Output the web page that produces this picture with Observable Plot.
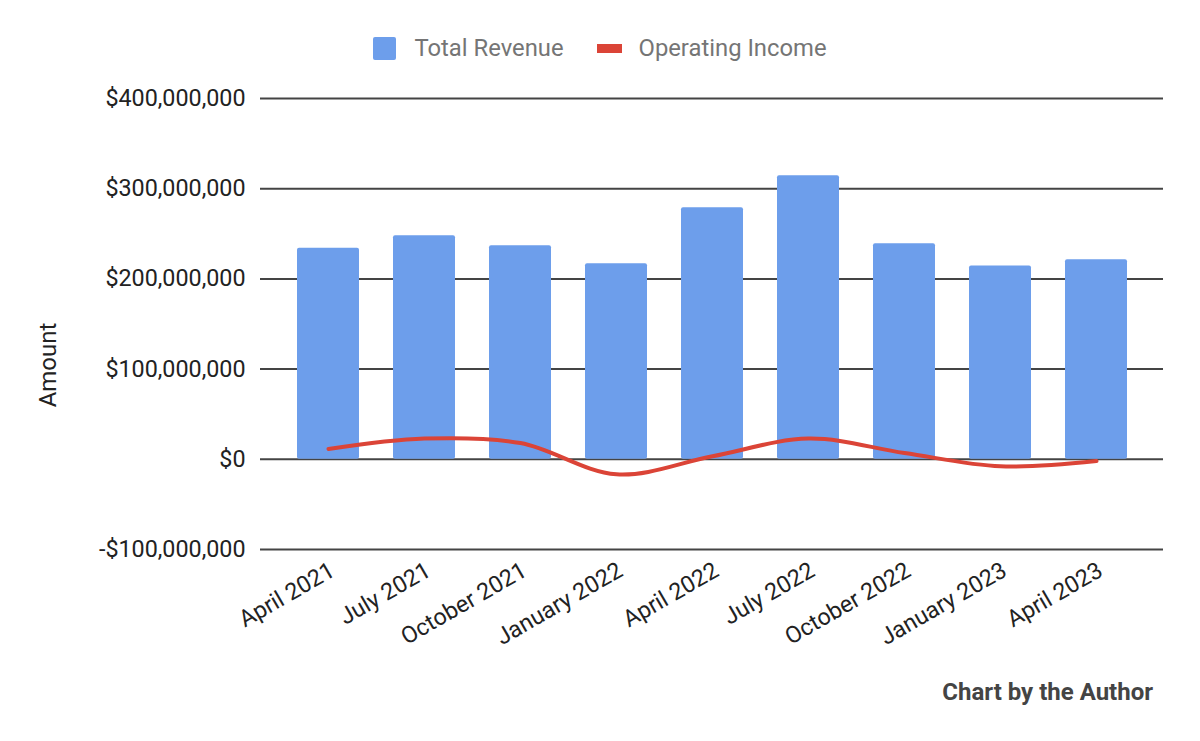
<!DOCTYPE html>
<html>
<head>
<meta charset="utf-8">
<script src="https://cdn.jsdelivr.net/npm/d3@7"></script>
<script src="https://cdn.jsdelivr.net/npm/@observablehq/plot@0.6"></script>
<style>
  html, body { margin: 0; padding: 0; background: #fff; }
  body { width: 1200px; height: 741px; overflow: hidden; font-family: Roboto, "Noto Sans", sans-serif; }
  #legend { height: 80px; display: flex; justify-content: center; align-items: center; padding-top: 16px; box-sizing: border-box; font-size: 23.8px; color: #757575; }
  .sw-bar { width: 23px; height: 23px; background: #6d9eeb; border-radius: 2px; margin-right: 18px; }
  .sw-line { width: 25px; height: 9px; background: #db4437; margin-right: 17px; }
  .item { display: flex; align-items: center; }
  .item + .item { margin-left: 33px; }
  #caption { height: 71px; text-align: right; padding-right: 47px; font-size: 24px; font-weight: bold; color: #444; line-height: 44px; }
  #chart svg { display: block; }
</style>
</head>
<body>
<div id="legend">
  <div class="item"><div class="sw-bar"></div><span>Total Revenue</span></div>
  <div class="item"><div class="sw-line"></div><span>Operating Income</span></div>
</div>
<div id="chart"></div>
<div id="caption">Chart by the Author</div>
<script>
const months = ["April 2021", "July 2021", "October 2021", "January 2022", "April 2022", "July 2022", "October 2022", "January 2023", "April 2023"];
const totalRevenue = [234100000, 247800000, 236700000, 216700000, 278900000, 314400000, 238900000, 214400000, 221100000];
const operatingIncome = [11400000, 23000000, 18000000, -16700000, 3300000, 23000000, 7000000, -7800000, -1900000];
const yTicks = [-100000000, 0, 100000000, 200000000, 300000000, 400000000];

const data = months.map((m, i) => ({month: m, revenue: totalRevenue[i], income: operatingIncome[i]}));
const fmt = d => (d < 0 ? "-" : "") + "$" + d3.format(",")(Math.abs(d));

const chart = Plot.plot({
  width: 1200,
  height: 590,
  marginLeft: 260,
  marginRight: 37,
  marginTop: 18,
  marginBottom: 121,
  style: {fontFamily: "Roboto, sans-serif", fontSize: "23px", color: "#222", background: "#fff"},
  x: {domain: months, paddingInner: 0.358, paddingOuter: 0.36, label: null},
  y: {domain: [-100000000, 400000000], label: null},
  marks: [
    Plot.ruleY(yTicks, {stroke: "#444", strokeWidth: 2}),
    Plot.barY(data, {x: "month", y: "revenue", fill: "#6d9eeb", rx: 2}),
    Plot.line(data, {x: "month", y: "income", stroke: "#db4437", strokeWidth: 4, curve: "catmull-rom"}),
    Plot.axisY({ticks: yTicks, tickFormat: fmt, tickSize: 0, tickPadding: 15, fontSize: 23.3, label: null}),
    Plot.axisX({tickRotate: -30, tickSize: 0, tickPadding: 19, dx: 4, fontSize: 23.3, label: null}),
    Plot.text(["Amount"], {frameAnchor: "left", text: d => d, rotate: -90, dx: -212, dy: 41, textAnchor: "middle", fontSize: 24, fill: "#222"})
  ]
});
document.getElementById("chart").appendChild(chart);
</script>
</body>
</html>
